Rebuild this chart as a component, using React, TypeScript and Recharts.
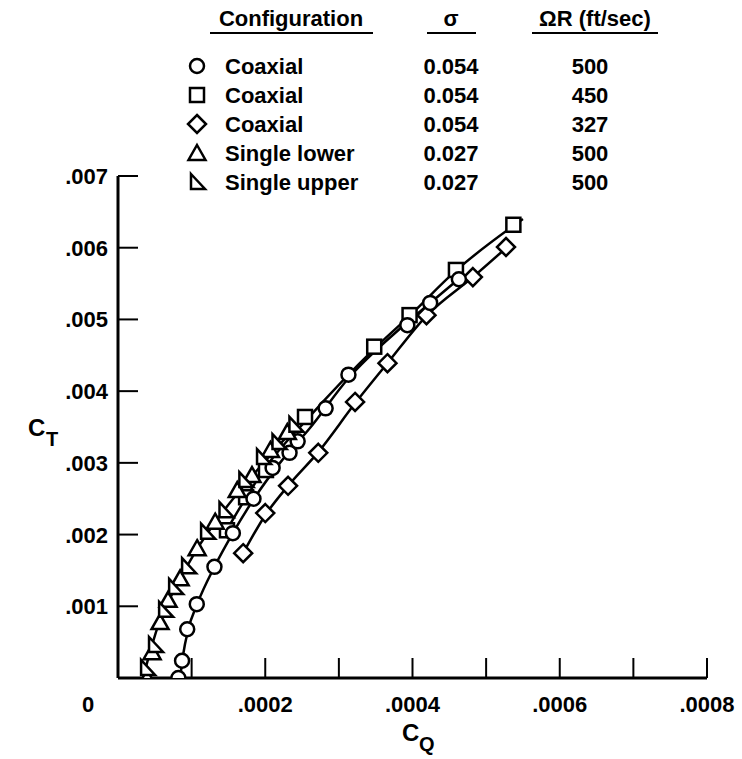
import React from 'react'
import { ComposedChart, Line, Scatter, XAxis, YAxis } from 'recharts'

// measured points (C_Q, C_T)
const coax500 = [
  { x: 0.000082, y: 0.0 },
  { x: 0.000087, y: 0.00024 },
  { x: 0.000094, y: 0.00068 },
  { x: 0.000107, y: 0.00103 },
  { x: 0.000131, y: 0.00155 },
  { x: 0.000156, y: 0.00202 },
  { x: 0.000184, y: 0.0025 },
  { x: 0.00021, y: 0.00293 },
  { x: 0.000233, y: 0.00314 },
  { x: 0.000244, y: 0.0033 },
  { x: 0.000282, y: 0.00376 },
  { x: 0.000313, y: 0.00423 },
  { x: 0.000393, y: 0.00492 },
  { x: 0.000424, y: 0.00523 },
  { x: 0.000463, y: 0.00556 },
]
const coax450 = [
  { x: 0.000148, y: 0.00206 },
  { x: 0.000174, y: 0.00252 },
  { x: 0.000201, y: 0.0029 },
  { x: 0.000254, y: 0.00364 },
  { x: 0.000348, y: 0.00462 },
  { x: 0.000396, y: 0.00506 },
  { x: 0.000459, y: 0.00569 },
  { x: 0.000537, y: 0.00632 },
]
const coax327 = [
  { x: 0.00017, y: 0.00174 },
  { x: 0.0002, y: 0.0023 },
  { x: 0.000231, y: 0.00268 },
  { x: 0.000272, y: 0.00314 },
  { x: 0.000322, y: 0.00385 },
  { x: 0.000366, y: 0.00439 },
  { x: 0.000419, y: 0.00506 },
  { x: 0.000482, y: 0.00559 },
  { x: 0.000527, y: 0.00601 },
]
const singleLower = [
  { x: 0.0000395, y: 0.0 },
  { x: 0.0000463, y: 0.00036 },
  { x: 0.0000571, y: 0.00078 },
  { x: 0.000068, y: 0.00109 },
  { x: 0.0000844, y: 0.00139 },
  { x: 0.0001075, y: 0.00181 },
  { x: 0.000132, y: 0.00218 },
  { x: 0.000162, y: 0.00262 },
  { x: 0.000182, y: 0.00283 },
  { x: 0.000207, y: 0.00318 },
  { x: 0.00023, y: 0.00343 },
]
const singleUpper = [
  { x: 0.0000395, y: 0.00014 },
  { x: 0.0000503, y: 0.00046 },
  { x: 0.000064, y: 0.00095 },
  { x: 0.0000776, y: 0.00127 },
  { x: 0.0000952, y: 0.00156 },
  { x: 0.000121, y: 0.00204 },
  { x: 0.000146, y: 0.00234 },
  { x: 0.000173, y: 0.00276 },
  { x: 0.000197, y: 0.00308 },
  { x: 0.000218, y: 0.00329 },
  { x: 0.000241, y: 0.00353 },
]

// faired curves
const fitSingle = [
  { x: 0.000034, y: 0.0 },
  { x: 0.0000435, y: 0.00036 },
  { x: 0.0000571, y: 0.00081 },
  { x: 0.0000776, y: 0.00125 },
  { x: 0.000105, y: 0.00176 },
  { x: 0.000139, y: 0.00227 },
  { x: 0.00018, y: 0.00279 },
  { x: 0.000214, y: 0.00319 },
  { x: 0.000248, y: 0.00358 },
]
const fit500 = [
  { x: 0.0000844, y: 0.0 },
  { x: 0.0000884, y: 0.00032 },
  { x: 0.0000952, y: 0.00067 },
  { x: 0.0001075, y: 0.00103 },
  { x: 0.000131, y: 0.00155 },
  { x: 0.000156, y: 0.00202 },
  { x: 0.000186, y: 0.00252 },
  { x: 0.00022, y: 0.003 },
  { x: 0.000261, y: 0.00349 },
  { x: 0.000313, y: 0.00418 },
  { x: 0.000384, y: 0.00488 },
  { x: 0.000424, y: 0.00523 },
  { x: 0.000468, y: 0.00561 },
]
const fit450 = [
  { x: 0.000147, y: 0.00205 },
  { x: 0.00017, y: 0.00245 },
  { x: 0.0002, y: 0.00293 },
  { x: 0.000257, y: 0.00361 },
  { x: 0.000348, y: 0.00459 },
  { x: 0.000396, y: 0.00505 },
  { x: 0.000459, y: 0.00568 },
  { x: 0.00055, y: 0.0064 },
]
const fit327 = [
  { x: 0.00017, y: 0.00174 },
  { x: 0.0002, y: 0.00227 },
  { x: 0.000231, y: 0.00268 },
  { x: 0.000272, y: 0.00315 },
  { x: 0.000322, y: 0.00383 },
  { x: 0.000366, y: 0.00439 },
  { x: 0.000419, y: 0.00505 },
  { x: 0.000482, y: 0.00559 },
  { x: 0.000533, y: 0.00605 },
]

const X_TICKS = [0, 0.0001, 0.0002, 0.0003, 0.0004, 0.0005, 0.0006, 0.0007, 0.0008]
const X_LABELS: Record<string, string> = { '0.0002': '.0002', '0.0004': '.0004', '0.0006': '.0006', '0.0008': '.0008' }
const Y_TICKS = [0, 0.001, 0.002, 0.003, 0.004, 0.005, 0.006, 0.007]

// legend table
const CONFIGS = ['Coaxial', 'Coaxial', 'Coaxial', 'Single lower', 'Single upper']
const SIGMAS = ['0.054', '0.054', '0.054', '0.027', '0.027']
const SPEEDS = ['500', '450', '327', '500', '500']
const MARKERS = ['circle', 'square', 'diamond', 'triangle', 'rtriangle']

const FONT = '"Liberation Sans", Arial, Helvetica, sans-serif'
const SW = 2.5

function Marker({ kind, cx, cy }: { kind: string; cx: number; cy: number }) {
  const p = { fill: '#fff', stroke: '#000', strokeWidth: SW }
  if (kind === 'circle') return <circle cx={cx} cy={cy} r={7} {...p} />
  if (kind === 'square') return <rect x={cx - 7} y={cy - 7} width={14} height={14} {...p} />
  if (kind === 'diamond')
    return <polygon points={`${cx},${cy - 9} ${cx + 9},${cy} ${cx},${cy + 9} ${cx - 9},${cy}`} {...p} />
  if (kind === 'triangle')
    return <polygon points={`${cx},${cy - 8} ${cx + 8.5},${cy + 7} ${cx - 8.5},${cy + 7}`} {...p} />
  return <polygon points={`${cx - 6},${cy - 8} ${cx + 8},${cy + 7} ${cx - 6},${cy + 7}`} {...p} />
}

const shapeOf = (kind: string) => (props: any) => <Marker kind={kind} cx={props.cx} cy={props.cy} />

function XTick({ x, y, payload }: any) {
  const v = payload.value
  if (v === 0) return null
  const label = X_LABELS[String(v)]
  return (
    <g>
      <line x1={x} x2={x} y1={y} y2={y - 20} stroke="#000" strokeWidth={2} />
      {label && (
        <text x={x} y={y + 34} textAnchor="middle" fontSize={22} fontWeight="bold" fontFamily={FONT} fill="#000">
          {label}
        </text>
      )}
    </g>
  )
}

function YTick({ x, y, payload }: any) {
  const v = payload.value
  if (v === 0) return null
  return (
    <g>
      <line x1={x} x2={x + 20} y1={y} y2={y} stroke="#000" strokeWidth={2} />
      <text x={x - 10} y={y + 8} textAnchor="end" fontSize={22} fontWeight="bold" fontFamily={FONT} fill="#000">
        {'.' + v.toFixed(3).slice(2)}
      </text>
    </g>
  )
}

export default function App() {
  const txt = { fontSize: 22, fontWeight: 'bold' as const, fontFamily: FONT, fill: '#000' }
  return (
    <div style={{ position: 'absolute', left: 0, top: 0, width: 742, height: 759, background: '#fff' }}>
      <ComposedChart width={742} height={759} margin={{ top: 176, right: 35, bottom: 0, left: 0 }}>
        <XAxis
          type="number"
          dataKey="x"
          domain={[0, 0.0008]}
          ticks={X_TICKS}
          interval={0}
          allowDataOverflow
          height={81}
          tickSize={0}
          tickMargin={0}
          tickLine={false}
          axisLine={{ stroke: '#000', strokeWidth: 3 }}
          tick={<XTick />}
        />
        <YAxis
          type="number"
          dataKey="y"
          domain={[0, 0.007]}
          ticks={Y_TICKS}
          interval={0}
          allowDataOverflow
          width={118}
          tickSize={0}
          tickMargin={0}
          tickLine={false}
          axisLine={{ stroke: '#000', strokeWidth: 3 }}
          tick={<YTick />}
        />
        <Line data={fitSingle} dataKey="y" type="monotone" stroke="#000" strokeWidth={SW} dot={false} isAnimationActive={false} />
        <Line data={fit500} dataKey="y" type="monotone" stroke="#000" strokeWidth={SW} dot={false} isAnimationActive={false} />
        <Line data={fit450} dataKey="y" type="monotone" stroke="#000" strokeWidth={SW} dot={false} isAnimationActive={false} />
        <Line data={fit327} dataKey="y" type="monotone" stroke="#000" strokeWidth={SW} dot={false} isAnimationActive={false} />
        <Scatter data={coax327} dataKey="y" shape={shapeOf('diamond')} isAnimationActive={false} />
        <Scatter data={coax450} dataKey="y" shape={shapeOf('square')} isAnimationActive={false} />
        <Scatter data={coax500} dataKey="y" shape={shapeOf('circle')} isAnimationActive={false} />
        <Scatter data={singleLower} dataKey="y" shape={shapeOf('triangle')} isAnimationActive={false} />
        <Scatter data={singleUpper} dataKey="y" shape={shapeOf('rtriangle')} isAnimationActive={false} />
      </ComposedChart>

      <svg width={742} height={759} style={{ position: 'absolute', left: 0, top: 0, pointerEvents: 'none' }}>
        {/* legend table */}
        <text x={291} y={26} textAnchor="middle" {...txt}>Configuration</text>
        <line x1={210} x2={373} y1={33} y2={33} stroke="#000" strokeWidth={2} />
        <text x={451} y={26} textAnchor="middle" {...txt}>σ</text>
        <line x1={427} x2={476} y1={33} y2={33} stroke="#000" strokeWidth={2} />
        <text x={595} y={26} textAnchor="middle" {...txt}>ΩR (ft/sec)</text>
        <line x1={532} x2={658} y1={33} y2={33} stroke="#000" strokeWidth={2} />
        {CONFIGS.map((c, i) => {
          const cy = 66 + i * 29
          return (
            <g key={i}>
              <Marker kind={MARKERS[i]} cx={197} cy={cy} />
              <text x={225} y={cy + 8} {...txt}>{c}</text>
              <text x={451} y={cy + 8} textAnchor="middle" {...txt}>{SIGMAS[i]}</text>
              <text x={590} y={cy + 8} textAnchor="middle" {...txt}>{SPEEDS[i]}</text>
            </g>
          )
        })}
        {/* axis titles */}
        <text x={28} y={436} {...txt} fontSize={24}>C</text>
        <text x={46} y={446} {...txt} fontSize={20}>T</text>
        <text x={402} y={741} {...txt} fontSize={24}>C</text>
        <text x={419} y={751} {...txt} fontSize={20}>Q</text>
        <text x={88} y={712} textAnchor="middle" {...txt}>0</text>
      </svg>
    </div>
  )
}
